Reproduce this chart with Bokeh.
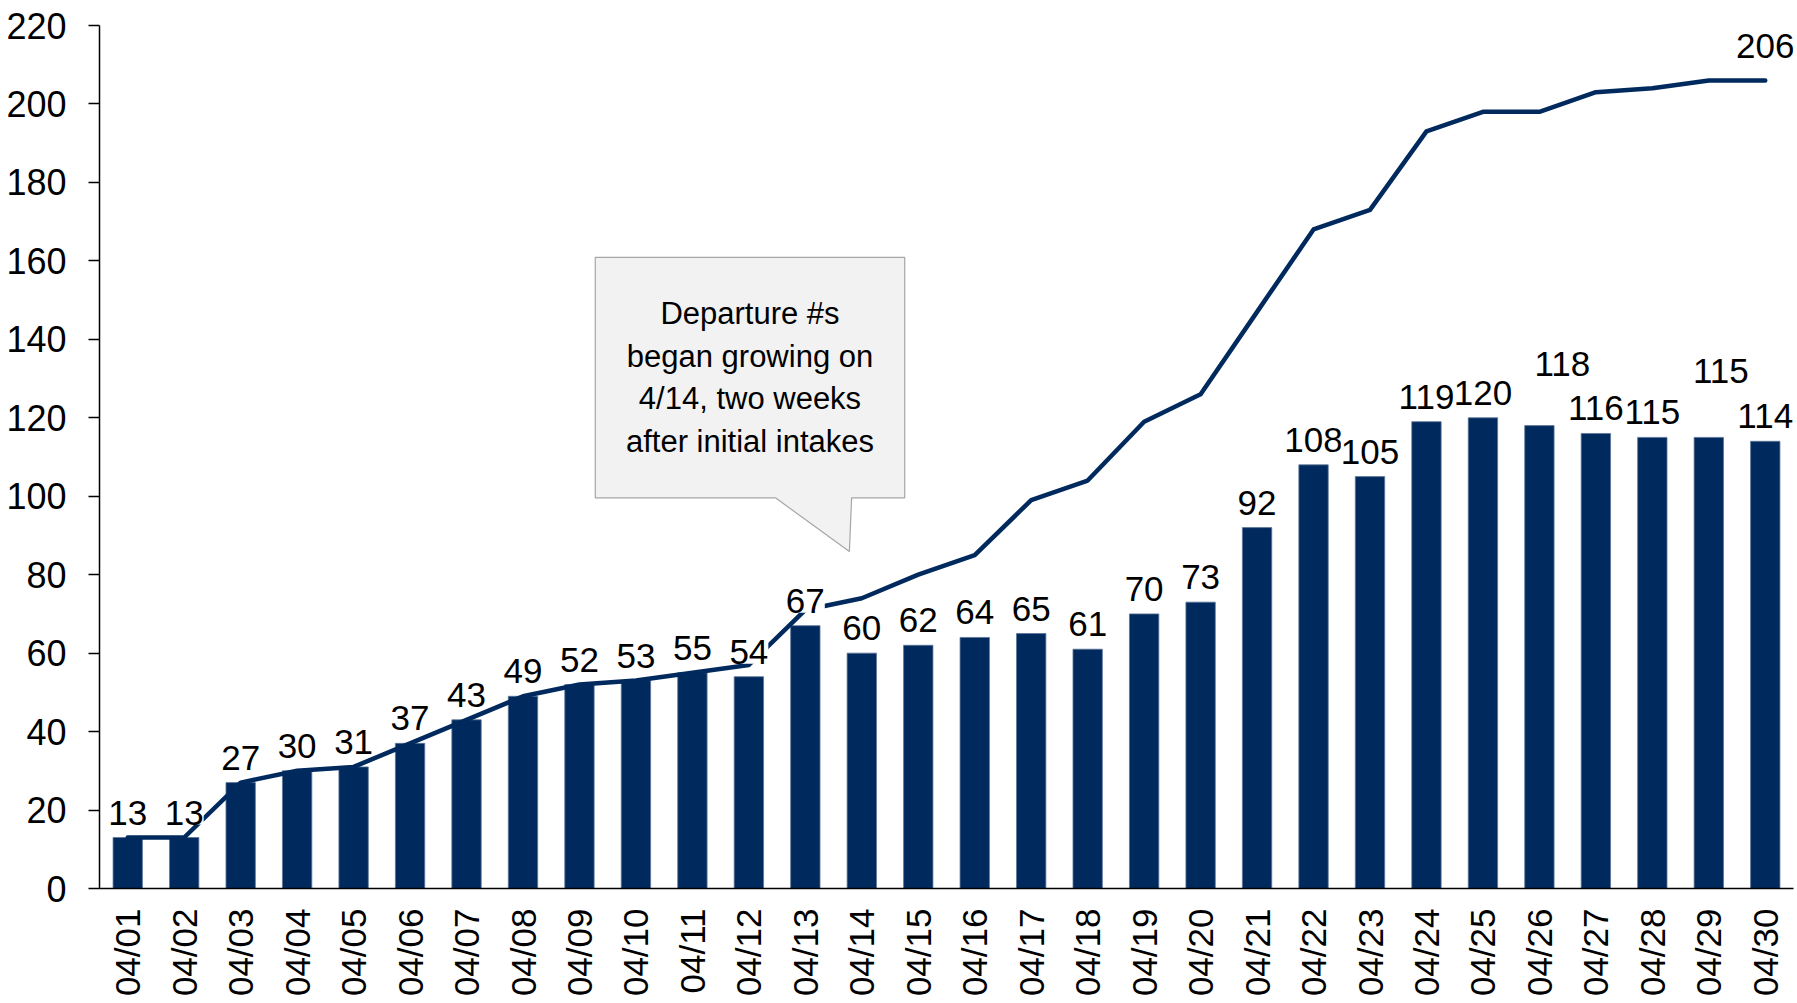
import math
from bokeh.plotting import figure
from bokeh.models import ColumnDataSource, LabelSet, FixedTicker, Range1d
from bokeh.embed import file_html
from bokeh.resources import INLINE
from bokeh.core.properties import value

# ---------------- data ----------------
dates = ["04/01", "04/02", "04/03", "04/04", "04/05", "04/06", "04/07", "04/08",
         "04/09", "04/10", "04/11", "04/12", "04/13", "04/14", "04/15", "04/16",
         "04/17", "04/18", "04/19", "04/20", "04/21", "04/22", "04/23", "04/24",
         "04/25", "04/26", "04/27", "04/28", "04/29", "04/30"]
daily = [13, 13, 27, 30, 31, 37, 43, 49, 52, 53, 55, 54, 67, 60, 62, 64, 65, 61,
         70, 73, 92, 108, 105, 119, 120, 118, 116, 115, 115, 114]
trend = [13, 13, 27, 30, 31, 37, 43, 49, 52, 53, 55, 57, 71, 74, 80, 85, 99, 104,
         119, 126, 147, 168, 173, 193, 198, 198, 203, 204, 206, 206]
y_ticks = [0, 20, 40, 60, 80, 100, 120, 140, 160, 180, 200, 220]
note = "Departure #s\nbegan growing on\n4/14, two weeks\nafter initial intakes"

# ---------------- style ----------------
FONT = "Liberation Sans"
NAVY = "#002A5E"
FS = "35px"
label_shift = {"04/26": (23, 37), "04/29": (12, 41)}  # manual label nudges (px)

idx = list(range(len(dates)))
dx = [label_shift.get(d, (0, 0))[0] for d in dates]
dy = [13 + label_shift.get(d, (0, 0))[1] for d in dates]

src = ColumnDataSource(dict(x=idx, daily=daily, trend=trend,
                            txt=[str(v) for v in daily], dx=dx, dy=dy))

p = figure(width=1797, height=1003,
           x_range=Range1d(-0.5, len(dates) - 0.5), y_range=Range1d(y_ticks[0], y_ticks[-1]),
           output_backend="svg", toolbar_location=None,
           min_border_left=99, min_border_right=4, min_border_top=25, min_border_bottom=115)
p.background_fill_color = "white"
p.border_fill_color = "white"
p.outline_line_color = None
p.xgrid.grid_line_color = None
p.ygrid.grid_line_color = None

# bars
p.vbar(x="x", top="daily", width=0.52, bottom=0, source=src,
       fill_color=NAVY, line_color="#5c7598", line_width=0.8)

# line
p.line(x="x", y="trend", source=src, line_color=NAVY, line_width=4.5,
       line_join="round", line_cap="round")

# bar labels with white background (cover the line)
labels = LabelSet(x="x", y="daily", text="txt", source=src, x_offset="dx", y_offset="dy",
                  text_align="center", text_baseline="alphabetic",
                  text_font=value(FONT), text_font_size=FS, text_color="black",
                  background_fill_color="white")
p.add_layout(labels)

# last line value label
end_src = ColumnDataSource(dict(x=[idx[-1]], y=[trend[-1]], t=[str(trend[-1])]))
p.add_layout(LabelSet(x="x", y="y", text="t", source=end_src, y_offset=22,
                      text_align="center", text_baseline="alphabetic",
                      text_font=value(FONT), text_font_size=FS, text_color="black"))

# callout (data-space placement)
bx0, bx1, by0, by1 = 8.28, 13.76, 99.6, 160.9
t_left, t_right, tip_x, tip_y = 11.47, 12.82, 12.78, 85.9
p.patch([bx0, bx1, bx1, t_right, tip_x, t_left, bx0],
        [by1, by1, by0, by0, tip_y, by0, by0],
        fill_color="#F2F2F2", line_color="#A6A6A6", line_width=1.2)
p.text(x=[(bx0 + bx1) / 2], y=[(by0 + by1) / 2], text=[note],
       text_align="center", text_baseline="middle", text_line_height=1.22,
       text_font=value(FONT), text_font_size="31px", text_color="black")

# axes
yax = p.yaxis[0]
yax.ticker = FixedTicker(ticks=y_ticks)
yax.minor_tick_line_color = None
yax.major_tick_in = 0
yax.major_tick_out = 11
yax.major_tick_line_color = "black"
yax.major_tick_line_width = 1.5
yax.axis_line_color = "black"
yax.axis_line_width = 1.5
yax.major_label_standoff = 22
yax.major_label_text_font = FONT
yax.major_label_text_font_size = "36px"
yax.major_label_text_color = "black"

xax = p.xaxis[0]
xax.ticker = FixedTicker(ticks=idx)
xax.major_label_overrides = {i: d for i, d in zip(idx, dates)}
xax.minor_tick_line_color = None
xax.major_tick_line_color = None
xax.major_tick_in = 0
xax.major_tick_out = 0
xax.axis_line_color = "black"
xax.axis_line_width = 1.5
xax.major_label_orientation = math.pi / 2
xax.major_label_standoff = 20
xax.major_label_text_font = FONT
xax.major_label_text_font_size = FS
xax.major_label_text_color = "black"

open("out.html", "w").write(file_html(p, INLINE))
